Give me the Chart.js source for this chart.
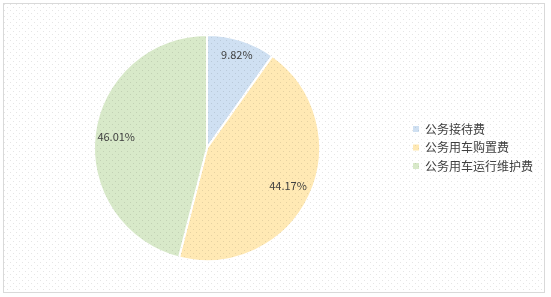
<!DOCTYPE html>
<html>
<head>
<meta charset="utf-8">
<script src="https://cdn.jsdelivr.net/npm/chart.js@4"></script>
<style>
  html, body { margin: 0; padding: 0; background: #fff; }
  #wrap { position: relative; width: 551px; height: 297px; }
  #frame {
    position: absolute; left: 3px; top: 3px; width: 540px; height: 288px;
    border: 1px solid #d9d9d9;
    background: #fff;
  }
  #dots {
    position: absolute; left: 4px; top: 4px; width: 540px; height: 288px;
    pointer-events: none;
    background-image: url("data:image/svg+xml,%3Csvg xmlns='http://www.w3.org/2000/svg' width='6' height='6' shape-rendering='crispEdges'%3E%3Crect x='0' y='0' width='1' height='1' fill='rgba(0,0,0,0.1)'/%3E%3Crect x='3' y='3' width='1' height='1' fill='rgba(0,0,0,0.1)'/%3E%3C/svg%3E");
    background-size: 6px 6px;
  }
  canvas { position: absolute; left: 0; top: 0; }
</style>
</head>
<body>
<div id="wrap">
  <div id="frame"></div>
  <canvas id="chart" width="551" height="297"></canvas>
  <div id="dots"></div>
</div>
<script>
const categories = ["公务接待费", "公务用车购置费", "公务用车运行维护费"];
const shares = [9.82, 44.17, 46.01];
const sliceColors = ["#cfe0f2", "#ffe9b4", "#d8e9c9"];
const labelDist = [0.87, 0.79, 0.81];

const FONT = '"Microsoft YaHei", "Noto Sans CJK SC", sans-serif';

const pieLabels = {
  id: "pieLabels",
  afterDatasetsDraw(chart) {
    const ctx = chart.ctx;
    const meta = chart.getDatasetMeta(0);
    ctx.save();
    ctx.font = "11px " + FONT;
    ctx.fillStyle = "#404040";
    ctx.textAlign = "center";
    ctx.textBaseline = "middle";
    meta.data.forEach((arc, i) => {
      const mid = (arc.startAngle + arc.endAngle) / 2;
      const r = arc.outerRadius * labelDist[i];
      ctx.fillText(shares[i].toFixed(2) + "%", arc.x + Math.cos(mid) * r, arc.y + Math.sin(mid) * r);
    });
    ctx.restore();
  }
};

const sideLegend = {
  id: "sideLegend",
  afterDraw(chart) {
    const ctx = chart.ctx;
    ctx.save();
    ctx.font = "12px " + FONT;
    ctx.textBaseline = "middle";
    categories.forEach((name, i) => {
      const y = 129 + i * 18.5;
      ctx.fillStyle = sliceColors[i];
      ctx.fillRect(413, y - 3, 6, 6);
      ctx.fillStyle = "#404040";
      ctx.fillText(name, 425, y);
    });
    ctx.restore();
  }
};

new Chart(document.getElementById("chart"), {
  type: "pie",
  data: {
    labels: categories,
    datasets: [{
      data: shares,
      backgroundColor: sliceColors,
      borderColor: "#ffffff",
      borderWidth: 2
    }]
  },
  options: {
    responsive: false,
    animation: false,
    layout: { padding: { left: 93, right: 230, top: 34, bottom: 35 } },
    plugins: {
      legend: { display: false },
      tooltip: { enabled: false }
    }
  },
  plugins: [pieLabels, sideLegend]
});
</script>
</body>
</html>
